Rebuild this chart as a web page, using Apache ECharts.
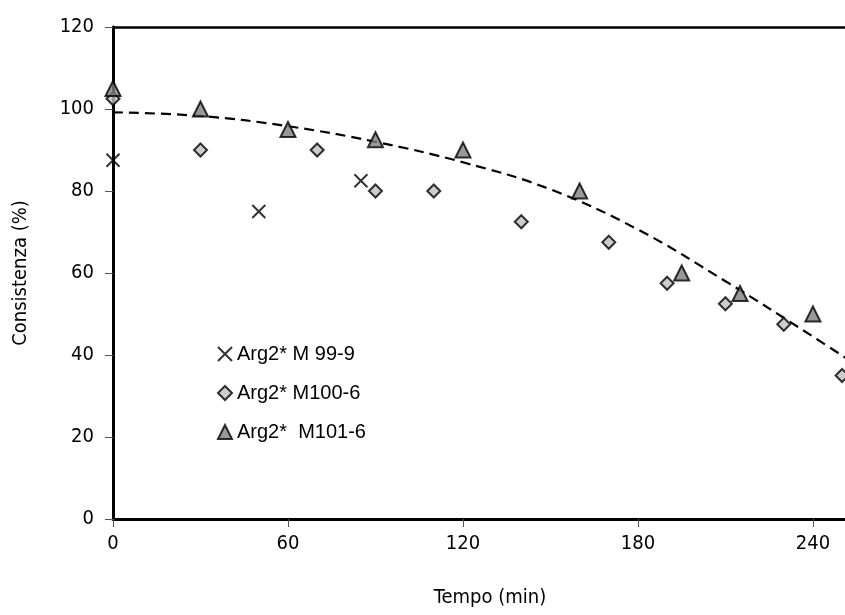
<!DOCTYPE html>
<html>
<head>
<meta charset="utf-8">
<script src="https://cdn.jsdelivr.net/npm/echarts@6/dist/echarts.min.js"></script>
<style>
  html, body { margin: 0; padding: 0; background: #fff; }
  #chart { width: 845px; height: 615px; }
</style>
</head>
<body>
<div id="chart"></div>
<script>
// data
var m99 = [[0, 87.5], [50, 75], [85, 82.5]];
var m100 = [[0, 102.5], [30, 90], [70, 90], [90, 80], [110, 80], [140, 72.5],
            [170, 67.5], [190, 57.5], [210, 52.5], [230, 47.5], [250, 35]];
var m101 = [[0, 105], [30, 100], [60, 95], [90, 92.5], [120, 90], [160, 80],
            [195, 60], [215, 55], [240, 50]];
// dashed trend line
var trend = [[0, 99.2], [30, 98.3], [60, 95.8], [90, 92], [120, 87], [150, 80.4],
             [180, 70.6], [210, 58], [240, 44.5], [255, 37.5]];
var xTicks = [0, 60, 120, 180, 240];
var yTicks = [0, 20, 40, 60, 80, 100, 120];

var narrow = '"Liberation Sans Narrow", "Arial Narrow", "DejaVu Sans Condensed", sans-serif';
var regular = 'Liberation Sans';
var crossPath = 'path://M0,0L10,10M10,0L0,10';

var chart = echarts.init(document.getElementById('chart'));
chart.setOption({
  animation: false,
  grid: { left: 113, top: 27, bottom: 96, right: 0 },
  legend: {
    orient: 'vertical',
    left: 212, top: 339,
    itemGap: 19,
    itemWidth: 14, itemHeight: 14,
    textStyle: { fontFamily: regular, fontSize: 20, color: '#000' },
    data: ['Arg2* M 99-9', 'Arg2* M100-6', 'Arg2*  M101-6']
  },
  xAxis: [{
    type: 'value',
    min: 0, max: 251, interval: 60,
    name: 'Tempo (min)',
    nameLocation: 'middle',
    nameGap: 69,
    nameTextStyle: { fontFamily: narrow, fontSize: 20, color: '#000', padding: [0, 0, 0, 22] },
    axisLine: { show: true, lineStyle: { color: '#000', width: 3 } },
    axisTick: { show: true, inside: false, length: 8, lineStyle: { color: '#555', width: 1 } },
    axisLabel: {
      fontFamily: narrow, fontSize: 20, color: '#000', margin: 15, showMaxLabel: false,
      formatter: function (v) { return xTicks.indexOf(v) >= 0 ? String(v) : ''; }
    },
    splitLine: { show: false }
  }, {
    type: 'value',
    position: 'top',
    min: 0, max: 251,
    axisLine: { show: true, onZero: false, lineStyle: { color: '#000', width: 2.5 } },
    axisTick: { show: false },
    axisLabel: { show: false },
    splitLine: { show: false }
  }],
  yAxis: {
    type: 'value',
    min: 0, max: 120, interval: 20,
    name: 'Consistenza (%)',
    nameLocation: 'middle',
    nameGap: 82,
    nameTextStyle: { fontFamily: narrow, fontSize: 20, color: '#000' },
    axisLine: { show: true, lineStyle: { color: '#000', width: 3 } },
    axisTick: { show: true, inside: false, length: 8, lineStyle: { color: '#555', width: 1 } },
    axisLabel: {
      fontFamily: narrow, fontSize: 20, color: '#000', margin: 19,
      formatter: function (v) { return yTicks.indexOf(v) >= 0 ? String(v) : ''; }
    },
    splitLine: { show: false }
  },
  series: [
    {
      name: 'trend',
      type: 'line',
      data: trend,
      smooth: 0.4,
      symbol: 'none',
      lineStyle: { color: '#000', width: 2.2, type: [10, 6] },
      z: 1
    },
    {
      name: 'Arg2* M 99-9',
      type: 'scatter',
      data: m99,
      symbol: crossPath,
      symbolSize: 13,
      itemStyle: { color: 'rgba(0,0,0,0)', borderColor: '#000', borderWidth: 2 },
      z: 3
    },
    {
      name: 'Arg2* M100-6',
      type: 'scatter',
      data: m100,
      symbol: 'diamond',
      symbolSize: 13,
      itemStyle: { color: '#c0c0c0', borderColor: '#000', borderWidth: 2 },
      z: 3
    },
    {
      name: 'Arg2*  M101-6',
      type: 'scatter',
      data: m101,
      symbol: 'triangle',
      symbolSize: 15,
      itemStyle: { color: '#808080', borderColor: '#000', borderWidth: 2 },
      z: 3
    }
  ]
});
</script>
</body>
</html>
